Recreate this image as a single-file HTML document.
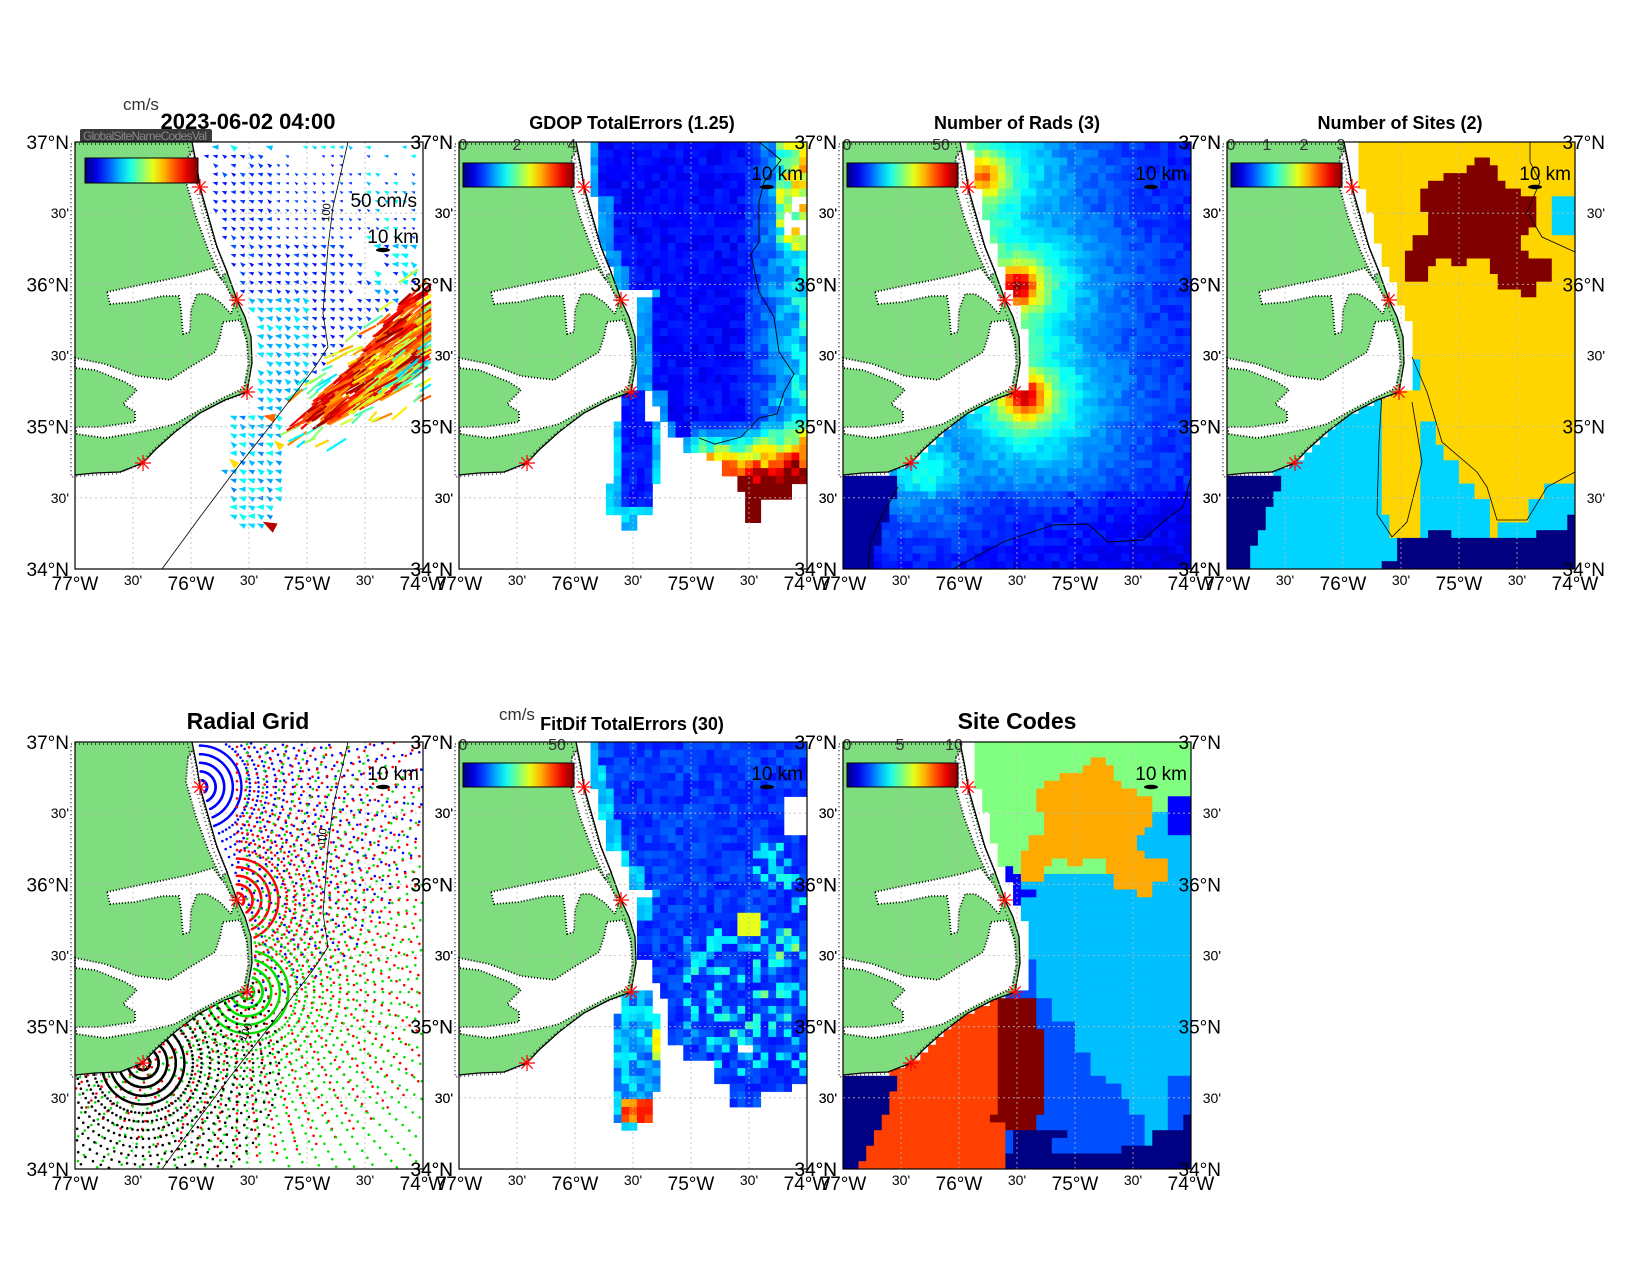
<!DOCTYPE html>
<html><head><meta charset="utf-8"><style>
html,body{margin:0;padding:0;background:#fff;}
svg text{font-family:"Liberation Sans",Arial,sans-serif;}
</style></head><body>
<svg id="s" xmlns="http://www.w3.org/2000/svg" width="1650" height="1275" viewBox="0 0 1650 1275">
<rect width="1650" height="1275" fill="#fff"/>
<defs id="d"></defs>
<g id="root"></g>
</svg>
<script>
(function(){
const W=348,H=427,NX=45,NY=55,CW=W/NX,CH=H/NY;
let seed=12345;function rnd(){seed=(seed*16807)%2147483647;return seed/2147483647;}
function jet(v){v=Math.max(0,Math.min(1,v));const c=t=>Math.round(255*Math.max(0,Math.min(1,1.5-Math.abs(4*v-t))));return `rgb(${c(3)},${c(2)},${c(1)})`;}
const north=[[117,0],[122,25],[125,45],[135,80],[142,105],[152,130],[162,158],[170,175],[176,195],[177,221],[172,250]];
const south=[[172,250],[150,258],[125,271],[100,290],[80,308],[68,321],[45,330],[20,331],[0,333]];
function interp(pts,y){for(let i=0;i<pts.length-1;i++){const a=pts[i],b=pts[i+1];if(y>=a[1]&&y<=b[1]){const t=(b[1]-a[1])?(y-a[1])/(b[1]-a[1]):0;return a[0]+t*(b[0]-a[0]);}}return null;}
function coastX(y){if(y<=250)return interp(north,y);if(y<=333)return interp(south,y);return -100;}
function ocean(x,y,g){return x>coastX(y)+(y<250?g:0);}
function pip(p,x,y){let c=false;for(let i=0,j=p.length-1;i<p.length;j=i++){const [xi,yi]=p[i],[xj,yj]=p[j];if(((yi>y)!=(yj>y))&&(x<(xj-xi)*(y-yi)/(yj-yi)+xi))c=!c;}return c;}
function pts(a){return a.map(p=>p[0]+','+p[1]).join(' ');}
function stepf(tab,y){for(const t of tab)if(y<t[0])return t[1];return tab[tab.length-1][1];}
function cells(f){let s='';for(let j=0;j<NY;j++)for(let i=0;i<NX;i++){const x0=i*CW,y0=j*CH;const c=f(x0+CW/2,y0+CH/2);if(c)s+=`<rect x="${x0.toFixed(1)}" y="${y0.toFixed(1)}" width="${(CW+0.5).toFixed(1)}" height="${(CH+0.5).toFixed(1)}" fill="${c}"/>`;}return s;}
const landPoly=[[0,0]].concat(north).concat(south.slice(1)).concat([[0,333]]);
const sounds=[
[[32,150],[60,144],[90,138],[118,132],[138,126],[150,142],[160,160],[156,172],[145,160],[132,152],[122,152],[116,168],[115,190],[108,192],[106,168],[104,154],[88,154],[60,160],[35,162]],
[[148,180],[165,178],[172,200],[174,222],[169,246],[150,255],[125,268],[100,282],[80,287],[60,291],[30,296],[2,292],[0,285],[25,285],[60,280],[60,270],[48,262],[62,248],[50,240],[20,228],[0,226],[0,216],[30,222],[62,234],[95,238],[115,225],[140,210],[145,195]],
[[113,15],[118,8],[128,60],[140,100],[152,130],[146,136],[134,110],[121,75],[111,40]]
];
let land=`<polygon points="${pts(landPoly)}" fill="#7fdd7f"/>`;
for(const s of sounds)land+=`<polygon points="${pts(s)}" fill="#fff" stroke="#000" stroke-width="1.8" stroke-dasharray="1 2"/>`;
land+=`<polygon points="${pts(landPoly)}" fill="none" stroke="#000" stroke-width="1.8" stroke-dasharray="1 3" opacity="0.7" transform="translate(-4,2)"/>`;
land+=`<polyline points="${pts(north.concat(south.slice(1)))}" fill="none" stroke="#000" stroke-width="1.3"/>`;
document.getElementById('d').innerHTML=`<g id="land">${land}</g>`;
const iso=[[273,0],[258,65],[253,105],[248,171],[253,205],[238,228],[215,258],[192,288],[158,331],[125,375],[87,427]];
const sites=[[125,45],[162,158],[172,250],[68,321]];
const P=[[75,142],[459,142],[843,142],[1227,142],[75,742],[459,742],[843,742]];
function grid(){let s='';for(let i=1;i<6;i++){s+=`<line x1="${i*58}" y1="0" x2="${i*58}" y2="${H}" stroke="#bbb" stroke-width="0.8" stroke-dasharray="2 3"/>`;s+=`<line x1="0" y1="${(i*H/6).toFixed(1)}" x2="${W}" y2="${(i*H/6).toFixed(1)}" stroke="#bbb" stroke-width="0.8" stroke-dasharray="2 3"/>`;}return s;}
function stars(){let s='';for(const [x,y] of sites){for(let k=0;k<4;k++){const a=k*Math.PI/4,dx=8*Math.cos(a),dy=8*Math.sin(a);s+=`<line x1="${(x-dx).toFixed(1)}" y1="${(y-dy).toFixed(1)}" x2="${(x+dx).toFixed(1)}" y2="${(y+dy).toFixed(1)}" stroke="#f00" stroke-width="1.2"/>`;}}return s;}
function axes(){let s='';const lat=[["37°N",0],["30'",71.2],["36°N",142.3],["30'",213.5],["35°N",284.7],["30'",355.8],["34°N",427]];
for(const [t,y] of lat){const m=t.length<4;const fs=m?14:19;const dy=m?5:7;s+=`<text x="-6" y="${y+dy}" font-size="${fs}" text-anchor="end">${t}</text><text x="${W+30}" y="${y+dy}" font-size="${fs}" text-anchor="end">${t}</text>`;}
const lon=[["77°W",0],["30'",58],["76°W",116],["30'",174],["75°W",232],["30'",290],["74°W",348]];
for(const [t,x] of lon){const m=t.length<4;s+=`<text x="${x}" y="${H+(m?16:21)}" font-size="${m?14:19}" text-anchor="middle">${t}</text>`;}
s+=`<rect x="0" y="0" width="${W}" height="${H}" fill="none" stroke="#000" stroke-width="1.2"/>`;return s;}
let gid=0;
function cbar(x,y,w,h,labels){gid++;const id='jg'+gid;let s=`<defs><linearGradient id="${id}" x1="0" x2="1" y1="0" y2="0">`;for(let i=0;i<=10;i++)s+=`<stop offset="${i/10}" stop-color="${jet(i/10)}"/>`;s+=`</linearGradient></defs><rect x="${x}" y="${y}" width="${w}" height="${h}" fill="url(#${id})" stroke="#000" stroke-width="1"/>`;for(const [t,lx] of labels)s+=`<text x="${lx}" y="8" font-size="16" fill="#333" text-anchor="middle">${t}</text>`;return s;}
function km(y){return `<text x="${W-4}" y="${y}" font-size="19" text-anchor="end">10 km</text><ellipse cx="${W-40}" cy="${y+7}" rx="7" ry="2.2" fill="#000"/>`;}
function isoPath(){return `<polyline points="${pts(iso)}" fill="none" stroke="#000" stroke-width="0.8"/>`;}
let out='';
function panel(k,inner){out+=`<g transform="translate(${P[k][0]},${P[k][1]})">${inner}</g>`;}

(function(){let s='';
const band=[[210,290],[235,262],[265,232],[290,205],[320,165],[345,148],[352,175],[348,215],[330,245],[300,262],[270,275],[240,288]];
const npoly=[[125,0],[345,0],[345,140],[300,180],[250,225],[215,260],[200,275],[178,275],[182,200],[170,170],[150,120],[130,50]];
const lobe=[[155,275],[205,275],[212,330],[195,385],[160,388],[148,330]];
for(let y=5;y<425;y+=9)for(let x=131;x<346;x+=9){
 if(!ocean(x,y,8))continue; if(pip(band,x,y))continue;
 let v=null;
 if(pip(npoly,x,y)){ if(x>268&&rnd()<0.35)continue; if(y<30&&rnd()<0.4)continue; v=0.13+0.08*rnd(); if(x<235&&y>150)v=0.27+0.1*rnd(); if(x>290&&y<170&&rnd()<0.5)v=0.28+0.12*rnd(); if(y<12)v=0.3+0.1*rnd();}
 else if(pip(lobe,x,y)){v=0.25+0.15*rnd(); if(rnd()<0.05)v=0.65+0.3*rnd();}
 if(v===null)continue;
 let sz=(y<100&&x>200)?0.7:1;
 const a=Math.PI+0.45+(rnd()-0.5)*0.8,L=(3.5+v*11)*sz,wd=L*0.75;
 const tx=x+Math.cos(a)*L/2,ty=y+Math.sin(a)*L/2,bx=x-Math.cos(a)*L/2,by=y-Math.sin(a)*L/2;
 const px=-Math.sin(a)*wd/2,py=Math.cos(a)*wd/2;
 s+=`<polygon points="${tx.toFixed(1)},${ty.toFixed(1)} ${(bx+px).toFixed(1)},${(by+py).toFixed(1)} ${(bx-px).toFixed(1)},${(by-py).toFixed(1)}" fill="${jet(v)}"/>`;
}
function ln(x,y,a,L,v,w){let x2=x+Math.cos(a)*L,y2=y+Math.sin(a)*L;if(x2>W+8){const f=(W+8-x)/(x2-x);if(f<=0)return '';x2=x+(x2-x)*f;y2=y+(y2-y)*f;}return `<line x1="${x.toFixed(1)}" y1="${y.toFixed(1)}" x2="${x2.toFixed(1)}" y2="${y2.toFixed(1)}" stroke="${jet(v)}" stroke-width="${w}"/>`;}
for(let k=0;k<160;k++){const x=200+rnd()*150,y=140+rnd()*170;if(pip(band,x,y))continue;
 let near=false;for(const [bx,by] of band){if(Math.hypot(bx-x,by-y)<25)near=true;} if(!near)continue;
 s+=ln(x,y,-0.6+(rnd()-0.5)*0.5,10+rnd()*14,0.35+0.45*rnd(),2.2);}
for(let k=0;k<1400;k++){const x=205+rnd()*148,y=145+rnd()*150;if(!pip(band,x,y))continue;
 const cxl=290-(y-160)*0.75; const d=Math.abs(x-cxl)/40;
 let v=1-0.3*d*rnd()-0.05*rnd(); if(rnd()<0.12)v=0.7+0.2*rnd();
 s+=ln(x,y,-0.62+(rnd()-0.5)*0.3,16+rnd()*18,v,2.2);}
s+=`<use href="#land"/>`+grid()+isoPath()+`<text x="254" y="80" font-size="11" transform="rotate(-85 254 80)">100</text>`+stars();
s+=`<rect x="5" y="-13" width="132" height="13" rx="2" fill="#3a3a3a"/><text x="8" y="-2" font-size="12" fill="#888" textLength="124">GlobalSiteNameCodesVal</text>`;
s+=cbar(10,16,113,25,[]);
s+=`<text x="${W-6}" y="65" font-size="19" text-anchor="end">50 cm/s</text>`+km(101);
s+=axes();panel(0,s);})();

(function(){const tab=[[55,133],[105,141],[125,150],[145,158],[155,190],[250,180],[265,195],[280,202],[295,210],[310,225],[320,250],[335,265],[350,275],[999,283]];
let s=cells((x,y)=>{if(!ocean(x,y,0))return null;
 const lobe=(x>=163&&x<=187&&y>=248&&y<280)||(x>=155&&x<=202&&y>=280&&y<345)||(x>=150&&x<=195&&y>=345&&y<372)||(x>=160&&x<=180&&y>=372&&y<388);
 if(lobe){let v=0.12+0.06*rnd();if(x<160||x>195||y>365)v=0.28+0.08*rnd();return jet(v);}
 const le=stepf(tab,y);const bot=x<265?332:x<300?377:x<330?356:338;
 if(x<le||y>bot)return null;
 if(x>322&&y>55&&y<95&&rnd()<0.8)return null;
 let v=0.1+0.06*rnd();if(x>280)v+=(x-280)/68*0.28*(0.6+0.6*rnd());if(x>318&&y<110)v+=0.1+0.25*rnd();if(x-le<10)v+=0.15;
 if(y>280&&x>235)v+=(y-280)/70*1.0*(0.7+0.4*rnd());return jet(v);});
s+=`<polyline points="300,0 322,18 305,40 300,60 300,100 292,112 300,150 315,175 320,210 335,232 325,250 318,272 300,276 282,295 256,302 240,296" fill="none" stroke="#000" stroke-width="0.9"/>`;
s+=`<use href="#land"/>`+grid()+stars()+cbar(4,21,111,24,[["0",4],["2",58],["4",113]])+km(38)+axes();panel(1,s);})();

(function(){const sp=[[140,35,0.45,70,0.22],[175,145,0.5,65,0.35],[183,255,0.5,65,0.35],[80,330,0.3,60,0]];
let s=cells((x,y)=>{if(!ocean(x,y,9))return null;
 if(y>331&&x<60-(y-331)*0.35)return jet(0.03);
 let v=0.1+0.06*rnd();let m=0;
 for(const [sx,sy,A,L,pk] of sp){const d=Math.hypot(x-sx,y-sy);m=Math.max(m,A*Math.exp(-d/L)+pk*Math.exp(-d*d/500));}
 if(y<250){const dc=x-coastX(y);m=Math.max(m,0.4*Math.exp(-dc/70));}
 v+=m; if(y>350)v-=0.04;return jet(v);});
s+=`<polyline points="110,427 160,400 210,383 245,382 265,400 300,398 320,380 340,365 348,335" fill="none" stroke="#000" stroke-width="0.9"/><polyline points="55,345 40,372 28,398 25,427" fill="none" stroke="#000" stroke-width="0.9"/>`;
s+=`<use href="#land"/>`+grid()+stars()+cbar(4,21,111,24,[["0",4],["50",98]])+km(38)+axes();panel(2,s);})();

const blob=[[248,15],[263,15],[263,24],[270,24],[270,38],[278,38],[278,46],[293,46],[293,54],[308,54],[308,85],[300,85],[300,94],[293,94],[293,110],[300,110],[300,116],[323,116],[323,140],[308,140],[308,155],[292,155],[292,148],[272,148],[272,133],[260,133],[260,116],[240,116],[240,124],[225,124],[225,116],[210,116],[210,124],[203,124],[203,140],[180,140],[180,110],[187,110],[187,94],[202,94],[202,70],[195,70],[195,46],[202,46],[202,38],[217,38],[217,31],[240,31],[240,24],[248,24]];

(function(){const B=[[250,190],[280,197],[300,207],[320,218],[340,235],[355,250],[999,262]];
let s=cells((x,y)=>{if(!ocean(x,y,10))return null;
 if(y>331&&x<57-(y-331)*0.4)return jet(0);
 if((y>=395&&x>171)||(y>=418&&x>156)||(y>=385&&x>309)||(y>=372&&x>340)||(x>201&&x<224&&y>385&&y<393))return jet(0);
 if(x>=157&&x<=195&&y>=250&&y<(x<165||x>190?370:395))return jet(2/3);
 if(y>=215&&x<stepf(B,y))return jet(1/3);
 const bot=x<270?999:x<300?378:x<320?360:340;if(y>bot)return jet(1/3);
 if(x>325&&y>51&&y<95)return jet(1/3);
 if(pip(blob,x,y))return jet(1);
 return jet(2/3);});
s+=`<polyline points="303,0 303,20 313,40 300,70 315,95 348,110" fill="none" stroke="#000" stroke-width="0.8"/><polyline points="155,250 152,300 150,372 165,395 180,380 195,320 185,260" fill="none" stroke="#000" stroke-width="0.8"/><polyline points="185,215 200,250 215,300 250,330 260,345 270,378 300,378 320,345 348,330" fill="none" stroke="#000" stroke-width="0.8"/>`;
s+=`<use href="#land"/>`+grid()+stars()+cbar(4,21,111,24,[["0",4],["1",40],["2",77],["3",114]])+km(38)+axes();panel(3,s);})();

(function(){let s='';
const cfg=[[125,45,230,"#0000ff"],[162,158,260,"#ff0000"],[172,250,265,"#00e000"],[68,321,140,"#000000"]];
for(const [cx,cy,rm,col] of cfg){for(let r=7;r<=rm;r+=8.6){const st=r<45?2.5:4.5;for(let a=-90;a<=200;a+=st){const t=a*Math.PI/180,x=cx+r*Math.cos(t),y=cy+r*Math.sin(t);
 if(x<1||x>W-1||y<1||y>H-1)continue;if(!ocean(x,y,3))continue;
 s+=`<circle cx="${x.toFixed(1)}" cy="${y.toFixed(1)}" r="1.3" fill="${col}"/>`;}}}
s=`<use href="#land"/>`+grid()+s+isoPath()+`<text x="250" y="105" font-size="11" transform="rotate(-85 250 105)">100</text><text x="170" y="300" font-size="11" transform="rotate(-65 170 300)">100</text>`+stars()+km(38)+axes();panel(4,s);})();

(function(){const tab=[[20,128],[45,133],[80,141],[110,150],[125,160],[145,172],[155,190],[220,180],[240,190],[260,200],[280,208],[300,212],[320,225],[999,258]];
let s=cells((x,y)=>{if(!ocean(x,y,0))return null;
 const lobe=(x>=163&&x<=190&&y>=248&&y<275)||(x>=155&&x<=202&&y>=275&&y<350)||(x>=155&&x<=195&&y>=350&&y<380)||(x>=162&&x<=178&&y>=380&&y<391);
 if(lobe){let v=0.2+0.18*rnd();if(y>355&&y<378&&x>160&&x<192)v=0.7+0.18*rnd();if(x>190&&y>285&&y<320)v=0.55+0.1*rnd();return jet(v);}
 const le=stepf(tab,y);const bot=x<255?321:x<272?338:x<305?368:x<330?352:338;
 if(x<le||y>bot)return null;if(x>325&&y>54&&y<91)return null;if(x>282&&x<296&&y>300&&y<308)return null;
 let v=0.14+0.08*rnd();if(x-le<12&&y<180)v+=0.15;if(x>225&&y>190&&y<330&&rnd()<0.3)v+=0.1+0.15*rnd();if(x>290&&y>100&&y<260&&rnd()<0.25)v+=0.12+0.1*rnd();
 if(x>282&&x<298&&y>170&&y<195)v=0.6;return jet(v);});
s+=`<use href="#land"/>`+grid()+stars()+cbar(4,21,111,24,[["0",4],["50",98]])+km(38)+axes();
s+=`<text x="${517-459}" y="${720-742}" font-size="17" fill="#333" text-anchor="middle">cm/s</text>`;panel(5,s);})();

(function(){const bluep=[[157,123],[172,123],[172,130],[180,130],[180,145],[195,145],[195,152],[180,152],[180,168],[172,168],[172,150],[165,150],[165,130],[157,130]];
const mb=[[0,180],[218,180],[255,195],[280,210],[310,230],[330,250],[340,265],[355,275],[370,285],[999,305]];
const drp=[[157,255],[190,255],[190,278],[197,278],[197,285],[203,285],[203,370],[195,370],[195,385],[165,385],[165,378],[150,378],[150,370],[157,370]];
let s=cells((x,y)=>{if(!ocean(x,y,10))return null;
 if(y>331&&x<60-(y-331)*0.45)return "rgb(0,0,131)";
 if((y>=408&&x>163)||(y>=400&&x>280)||(y>=385&&x>310)||(y>=372&&x>340)||(y>=392&&x>168&&x<205)||(x>203&&x<225&&y>385&&y<393))return "rgb(0,0,131)";
 if(pip(drp,x,y))return "rgb(128,0,0)";
 if(y>250&&x<160)return "rgb(255,64,0)";
 if(pip(bluep,x,y))return "rgb(0,0,255)";
 if(x>325&&y>55&&y<92)return "rgb(0,0,255)";
 if(pip(blob,x,y))return "rgb(255,170,0)";
 if(y>=218&&x<stepf(mb,y))return "rgb(0,80,255)";
 if(y>=330&&x>325&&y>340-(x-325))return "rgb(0,80,255)";
 if((y>135&&x>176)||(x>295&&y>70))return "rgb(0,191,255)";
 return "rgb(128,255,128)";});
s+=`<use href="#land"/>`+grid()+stars()+cbar(4,21,111,24,[["0",4],["5",57],["10",111]])+km(38)+axes();panel(6,s);})();

out+=`<text x="141" y="110" font-size="17" fill="#333" text-anchor="middle">cm/s</text>`;
out+=`<text x="248" y="129" font-size="22" font-weight="bold" text-anchor="middle">2023-06-02 04:00</text>`;
out+=`<text x="632" y="129" font-size="18" font-weight="bold" text-anchor="middle">GDOP TotalErrors (1.25)</text>`;
out+=`<text x="1017" y="129" font-size="18" font-weight="bold" text-anchor="middle">Number of Rads (3)</text>`;
out+=`<text x="1400" y="129" font-size="18" font-weight="bold" text-anchor="middle">Number of Sites (2)</text>`;
out+=`<text x="248" y="729" font-size="23" font-weight="bold" text-anchor="middle">Radial Grid</text>`;
out+=`<text x="632" y="730" font-size="18" font-weight="bold" text-anchor="middle">FitDif TotalErrors (30)</text>`;
out+=`<text x="1017" y="729" font-size="23" font-weight="bold" text-anchor="middle">Site Codes</text>`;
document.getElementById('root').innerHTML=out;
})();
</script>
</body></html>
